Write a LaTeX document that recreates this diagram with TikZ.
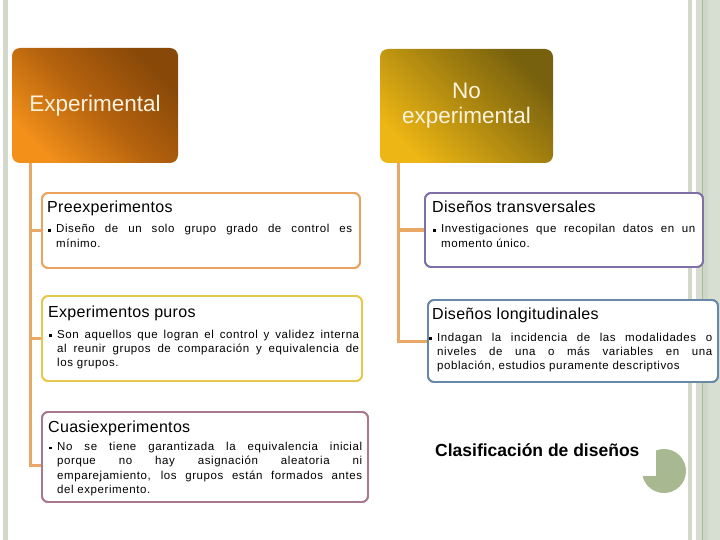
\documentclass[tikz,border=0pt]{standalone}
\usepackage{fontspec}
\setmainfont{Liberation Sans}
\newfontfamily\ttlfont[LetterSpace=2]{Liberation Sans}
\newfontfamily\bdyfont[LetterSpace=5]{Liberation Sans}
\definecolor{stripA}{HTML}{D2D9CB}
\definecolor{stripB}{HTML}{D6DDD0}
\definecolor{stripC}{HTML}{A8B898}
\definecolor{stripD}{HTML}{CFD8C8}
\definecolor{stripE}{HTML}{D8DFD2}
\definecolor{conncol}{HTML}{E9A866}
\definecolor{precol}{HTML}{EAA25C}
\definecolor{purcol}{HTML}{E6C84C}
\definecolor{cuacol}{HTML}{A87890}
\definecolor{tracol}{HTML}{8070A8}
\definecolor{loncol}{HTML}{6888A8}
\definecolor{expA}{HTML}{F2901A}
\definecolor{expB}{HTML}{B4620E}
\definecolor{expC}{HTML}{874808}
\definecolor{noeA}{HTML}{EDB614}
\definecolor{noeB}{HTML}{B08A10}
\definecolor{noeC}{HTML}{77600E}
\definecolor{hdrtext}{HTML}{FFF3DD}
\definecolor{piecol}{HTML}{A8B890}
\newcommand\JL[1]{\makebox[\linewidth][s]{#1}\\}
\newcommand\BUL{\leavevmode\llap{\raisebox{1.2pt}{\rule{2.6pt}{2.6pt}}\hspace{5.5pt}}}
\tikzset{
  hdr/.style={rounded corners=8pt, inner sep=0pt, text=hdrtext, align=center,
    font=\fontsize{22.5}{25}\selectfont},
  cbox/.style={draw, line width=1.8pt, rounded corners=6pt, fill=white, inner sep=0pt},
  ttl/.style={anchor=base west, inner sep=0pt, font=\ttlfont\fontsize{16}{19}\selectfont},
  bdy/.style={anchor=base west, inner sep=0pt, font=\bdyfont\fontsize{11.5}{14.3}\selectfont},
  conn/.style={draw=conncol, line width=3pt},
}
\begin{document}
\begin{tikzpicture}[x=1pt, y=-1pt]
\useasboundingbox (0,0) rectangle (720,540);
% side strips
\fill[stripA] (3,0) rectangle (8,540);
\fill[stripA] (688,0) rectangle (692,540);
\fill[stripB] (696,0) rectangle (702,540);
\fill[stripC] (702,0) rectangle (703.2,540);
\fill[stripD] (703.2,0) rectangle (708,540);
\fill[stripE] (708,0) rectangle (720,540);

% header boxes
\node[hdr, minimum width=166pt, minimum height=115pt,
  top color=expC, bottom color=expA, middle color=expB, shading angle=-45]
  (exp) at (95,105.5) {Experimental};
\node[hdr, minimum width=173pt, minimum height=114pt,
  top color=noeC, bottom color=noeA, middle color=noeB, shading angle=-45]
  (noe) at (466.5,106) {No\\experimental};

% content boxes
\node[cbox, draw=precol, minimum width=318pt, minimum height=75pt] (pre) at (201,230.5) {};
\node[cbox, draw=purcol, minimum width=320pt, minimum height=85pt] (pur) at (202,338.5) {};
\node[cbox, draw=cuacol, minimum width=326pt, minimum height=90pt] (cua) at (205,457) {};
\node[cbox, draw=tracol, minimum width=278pt, minimum height=74pt] (tra) at (564,230) {};
\node[cbox, draw=loncol, minimum width=290pt, minimum height=82pt] (lon) at (573,341) {};

% connectors
\coordinate (L) at ([xshift=-65pt]exp.south);
\coordinate (R) at ([xshift=-68.5pt]noe.south);
\draw[conn] (L) |- (pre.west);
\draw[conn] (L) |- (pur.west);
\draw[conn] (L) |- ([yshift=-8pt]cua.west);
\draw[conn] (R) |- (tra.west);
\draw[conn] (R) |- (lon.west);
% redraw boxes' borders over connector ends
\node[cbox, draw=precol, minimum width=318pt, minimum height=75pt, fill=none] at (pre) {};
\node[cbox, draw=purcol, minimum width=320pt, minimum height=85pt, fill=none] at (pur) {};
\node[cbox, draw=cuacol, minimum width=326pt, minimum height=90pt, fill=none] at (cua) {};
\node[cbox, draw=tracol, minimum width=278pt, minimum height=74pt, fill=none] at (tra) {};
\node[cbox, draw=loncol, minimum width=290pt, minimum height=82pt, fill=none] at (lon) {};

% titles
\node[ttl] (preT) at (47,212) {Preexperimentos};
\node[ttl] (purT) at (48,317) {Experimentos puros};
\node[ttl] (cuaT) at (48,432) {Cuasiexperimentos};
\node[ttl] (traT) at (432,212) {Diseños transversales};
\node[ttl] (lonT) at (432,319) {Diseños longitudinales};

% body texts
\node[bdy] (preB) at (56,233) {\parbox[t]{296pt}{\BUL\JL{Diseño de un solo grupo grado de control es}mínimo.}};
\node[bdy] (purB) at (57,338) {\parbox[t]{302pt}{\BUL\JL{Son aquellos que logran el control y validez interna}\JL{al reunir grupos de comparación y equivalencia de}los grupos.}};
\node[bdy] (cuaB) at (57,450.5) {\parbox[t]{305pt}{\BUL\JL{No se tiene garantizada la equivalencia inicial}\JL{porque no hay asignación aleatoria ni}\JL{emparejamiento, los grupos están formados antes}del experimento.}};
\node[bdy] (traB) at (441,233) {\parbox[t]{254pt}{\BUL\JL{Investigaciones que recopilan datos en un}momento único.}};
\node[bdy] (lonB) at (437,341) {\parbox[t]{275pt}{\BUL\JL{Indagan la incidencia de las modalidades o}\JL{niveles de una o más variables en una}población, estudios puramente descriptivos}};

% caption
\node[anchor=base west, inner sep=0pt, font=\bfseries\fontsize{17.5}{20}\selectfont] (cap) at (435,456) {Clasificación de diseños};

% pie mark
\fill[piecol] (656,450.5) arc[start angle=-111.3, end angle=166.8, radius=22] -- (656,476) -- cycle;
\end{tikzpicture}
\end{document}
